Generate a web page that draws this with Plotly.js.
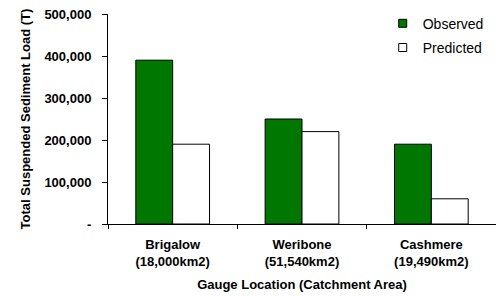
<!DOCTYPE html>
<html><head><meta charset="utf-8">
<script src="https://cdn.plot.ly/plotly-3.0.1.min.js"></script>
<style>body{margin:0;padding:0;background:#fff}#chart{width:496px;height:296px}</style>
</head><body><div id="chart"></div>
<script>
const categories = ["Brigalow<br>(18,000km2)", "Weribone<br>(51,540km2)", "Cashmere<br>(19,490km2)"];
const seriesNames = ["Observed", "Predicted"];
const observed = [390000, 250000, 190000];
const predicted = [190000, 220000, 60000];
const yTickVals = [0, 100000, 200000, 300000, 400000, 500000];
const yTickText = ["-", "100,000", "200,000", "300,000", "400,000", "500,000"];

const fam = "Liberation Sans, Arial, sans-serif";
const colors = ["#007800", "#ffffff"];
const data = [
  {type: "bar", name: seriesNames[0], x: categories, y: observed, showlegend: false,
   marker: {color: colors[0], line: {color: "#000", width: 1}}},
  {type: "bar", name: seriesNames[1], x: categories, y: predicted, showlegend: false,
   marker: {color: colors[1], line: {color: "#000", width: 1}}},
  // legend-only entries (small square keys)
  {type: "scatter", mode: "markers", name: seriesNames[0], x: [categories[0]], y: [null], legendgroup: "a",
   marker: {symbol: "square", size: 8, color: colors[0], line: {color: "#000", width: 1}}, hoverinfo: "skip"},
  {type: "scatter", mode: "markers", name: seriesNames[1], x: [categories[0]], y: [null], legendgroup: "b",
   marker: {symbol: "square", size: 8, color: colors[1], line: {color: "#000", width: 1}}, hoverinfo: "skip"}
];
const layout = {
  width: 496, height: 296,
  margin: {l: 108, r: 0, t: 14, b: 72, pad: 0},
  paper_bgcolor: "#fff", plot_bgcolor: "#fff",
  font: {family: fam, size: 13, color: "#000"},
  barmode: "group", bargap: 0.43, bargroupgap: 0,
  showlegend: true,
  legend: {x: 0.708, y: 1.03, xanchor: "left", yanchor: "top", bgcolor: "rgba(0,0,0,0)",
           font: {family: fam, size: 14, color: "#000"},
           itemwidth: 30, tracegroupgap: 3},
  xaxis: {type: "category", showline: true, linecolor: "#000", linewidth: 1,
          ticks: "outside", ticklen: 4, tickcolor: "#000", tickson: "boundaries",
          ticklabelstandoff: 8,
          showgrid: false, zeroline: false,
          tickfont: {family: fam, size: 13, color: "#000", weight: "bold"},
          title: {text: "Gauge Location (Catchment Area)", standoff: 12,
                  font: {family: fam, size: 13, color: "#000", weight: "bold"}}},
  yaxis: {range: [0, 500000], showline: true, linecolor: "#000", linewidth: 1,
          ticks: "outside", ticklen: 5, tickcolor: "#000",
          tickvals: yTickVals, ticktext: yTickText, ticklabelstandoff: 8,
          showgrid: false, zeroline: false,
          tickfont: {family: fam, size: 13, color: "#000", weight: "bold"},
          title: {text: "Total Suspended Sediment Load (T)", standoff: 10,
                  font: {family: fam, size: 13, color: "#000", weight: "bold"}}}
};
Plotly.newPlot("chart", data, layout, {displayModeBar: false, staticPlot: true});
</script></body></html>
